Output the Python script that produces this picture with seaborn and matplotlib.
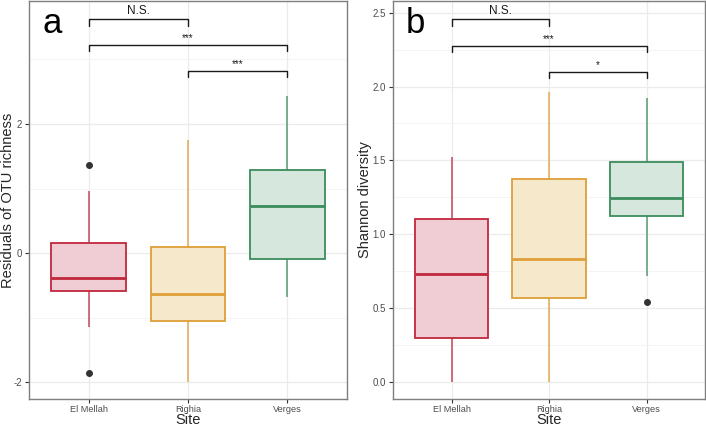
import numpy as np
import pandas as pd
import matplotlib
matplotlib.use("Agg")
import matplotlib.pyplot as plt
import seaborn as sns
from matplotlib.ticker import MultipleLocator

# Sites (ordre des boites)
sites = ["El Mellah", "Righia", "Verges"]

richness_el_mellah = [-1.86, -1.14, -0.58, -0.58, -0.38, 0.15, 0.15, 0.96, 1.37]
richness_righia = [-2.0, -1.05, -0.64, 0.10, 1.75]
richness_verges = [-0.68, -0.09, 0.73, 1.28, 2.43]

shannon_el_mellah = [0.0, 0.295, 0.728, 1.106, 1.525]
shannon_righia = [0.0, 0.568, 0.831, 1.374, 1.962]
shannon_verges = [0.54, 0.716, 1.124, 1.124, 1.243, 1.486, 1.486, 1.926, 1.926]

# Comparaisons deux a deux (indices des sites), hauteur de la barre, etiquette
pairs = [(0, 1), (0, 2), (1, 2)]
richness_bar_y = [3.62, 3.225, 2.82]
richness_labels = ["N.S.", "***", "***"]
shannon_bar_y = [2.457, 2.277, 2.101]
shannon_labels = ["N.S.", "***", "*"]

edge_colors = ["#C0283C", "#DE9E38", "#3B8C5C"]
fill_colors = ["#F0CDD5", "#F6E8CB", "#D6E8DD"]


def long_table(groups):
    rows = []
    for site, values in zip(sites, groups):
        for v in values:
            rows.append({"Site": site, "value": v})
    return pd.DataFrame(rows)


richness = long_table([richness_el_mellah, richness_righia, richness_verges])
shannon = long_table([shannon_el_mellah, shannon_righia, shannon_verges])

sns.set_theme(style="white")
plt.rcParams["font.family"] = ["Liberation Sans", "DejaVu Sans"]
plt.rcParams["axes.unicode_minus"] = False

fig = plt.figure(figsize=(7.06, 4.26), dpi=100)
ax_a = fig.add_axes([0.0411, 0.0634, 0.4504, 0.9346])
ax_b = fig.add_axes([0.5567, 0.0634, 0.4419, 0.9346])


def draw_panel(ax, data, ylim, major, bar_y, labels, letter, ylabel, ylab_x):
    sns.boxplot(data=data, x="Site", y="value", hue="Site", order=sites,
                hue_order=sites, palette=fill_colors, width=0.75,
                showcaps=False, legend=False, ax=ax,
                flierprops=dict(marker="o", markerfacecolor="#333333",
                                markeredgecolor="#333333", markersize=4))
    # couleurs de contour par site, facon ggplot
    for cont, ec, fc in zip(ax.containers, edge_colors, fill_colors):
        for b in cont.boxes:
            b.set_edgecolor(ec)
            b.set_facecolor(fc)
            b.set_linewidth(1.3)
            b.set_zorder(3)
        for m in cont.medians:
            m.set_color(ec)
            m.set_linewidth(2.0)
            m.set_zorder(4)
        for w in cont.whiskers:
            w.set_color(ec)
            w.set_alpha(0.85)
            w.set_linewidth(1.1)

    ax.set_xlim(-0.6, 2.6)
    ax.set_ylim(*ylim)
    ax.yaxis.set_major_locator(MultipleLocator(major))
    ax.yaxis.set_minor_locator(MultipleLocator(major / 2))
    ax.set_axisbelow(True)
    ax.grid(which="major", color="#EBEBEB", linewidth=0.9)
    ax.grid(which="minor", axis="y", color="#F3F3F3", linewidth=0.6)
    for s in ax.spines.values():
        s.set_visible(True)
        s.set_color("#7F7F7F")
        s.set_linewidth(1.0)
    ax.tick_params(which="major", length=3, width=0.8, color="#333333",
                   labelcolor="#4D4D4D", labelsize=7, pad=2,
                   left=True, bottom=True)
    ax.tick_params(axis="x", labelsize=6.6, pad=1)
    ax.tick_params(which="minor", length=0)

    # barres de significativite
    drop = 0.016 * (ylim[1] - ylim[0])
    for (i, j), y, lab in zip(pairs, bar_y, labels):
        ax.plot([i, i, j, j], [y - drop, y, y, y - drop], color="#1A1A1A",
                linewidth=1.0, zorder=5)
        fs = 8.5 if lab == "N.S." else 7
        ax.annotate(lab, xy=((i + j) / 2, y), xytext=(0, 1.5),
                    textcoords="offset points", ha="center", va="bottom",
                    fontsize=fs, color="#1A1A1A")

    ax.text(0.072, 0.942, letter, transform=ax.transAxes, ha="center",
            va="center", fontsize=25, color="black")
    ax.set_xlabel("Site", fontsize=10.5)
    ax.set_ylabel(ylabel, fontsize=10.5)
    ax.xaxis.set_label_coords(0.5, -0.036)
    ax.yaxis.set_label_coords(ylab_x, 0.5)


draw_panel(ax_a, richness, (-2.258, 3.905), 2, richness_bar_y, richness_labels,
           "a", "Residuals of OTU richness", -0.043)
draw_panel(ax_b, shannon, (-0.117, 2.581), 0.5, shannon_bar_y, shannon_labels,
           "b", "Shannon diversity", -0.068)
ax_b.yaxis.set_major_formatter(matplotlib.ticker.FormatStrFormatter("%.1f"))

fig.savefig("out.png", dpi=100)
